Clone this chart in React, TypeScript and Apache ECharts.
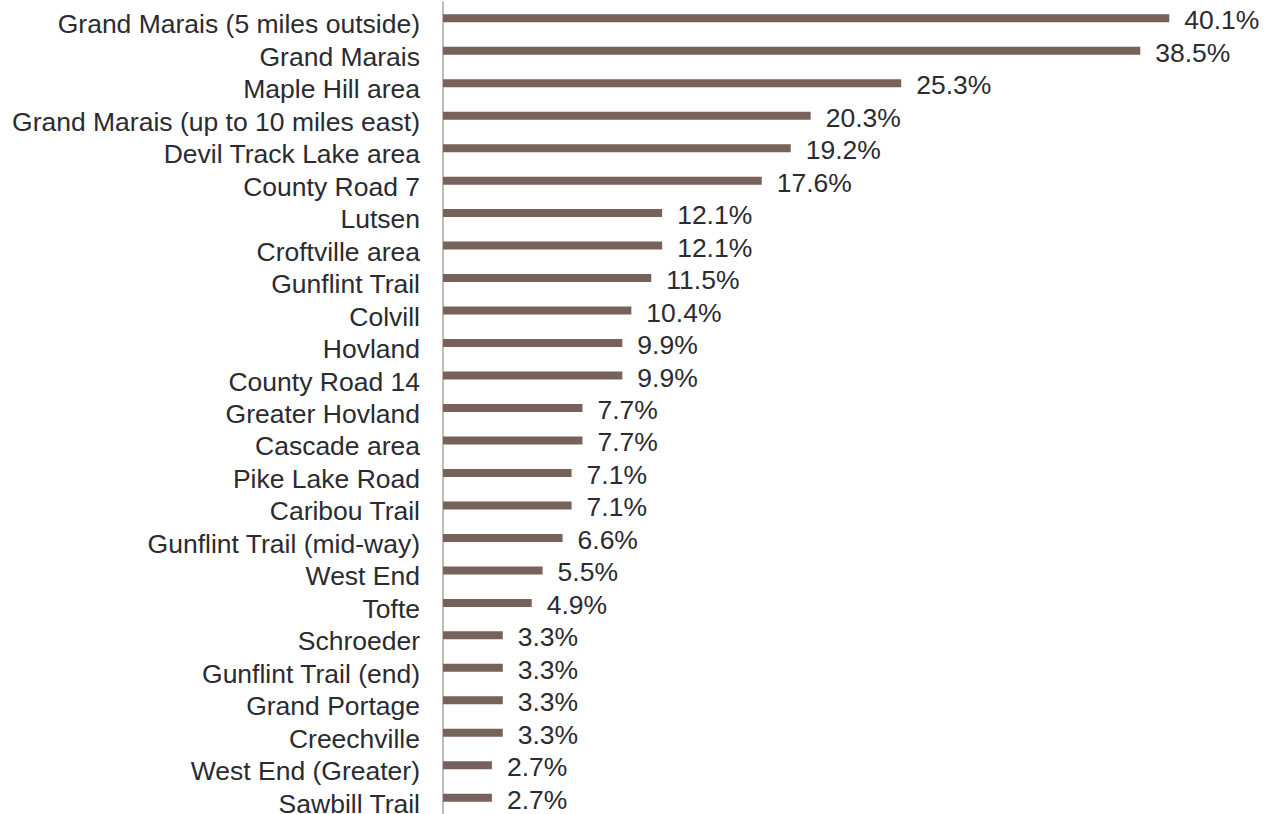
import React, { useEffect, useRef } from "react";
import * as echarts from "echarts";

const categories = [
  "Grand Marais (5 miles outside)",
  "Grand Marais",
  "Maple Hill area",
  "Grand Marais (up to 10 miles east)",
  "Devil Track Lake area",
  "County Road 7",
  "Lutsen",
  "Croftville area",
  "Gunflint Trail",
  "Colvill",
  "Hovland",
  "County Road 14",
  "Greater Hovland",
  "Cascade area",
  "Pike Lake Road",
  "Caribou Trail",
  "Gunflint Trail (mid-way)",
  "West End",
  "Tofte",
  "Schroeder",
  "Gunflint Trail (end)",
  "Grand Portage",
  "Creechville",
  "West End (Greater)",
  "Sawbill Trail",
];

const values = [
  40.1, 38.5, 25.3, 20.3, 19.2, 17.6, 12.1, 12.1, 11.5, 10.4, 9.9, 9.9, 7.7,
  7.7, 7.1, 7.1, 6.6, 5.5, 4.9, 3.3, 3.3, 3.3, 3.3, 2.7, 2.7,
];

export default function App() {
  const ref = useRef<HTMLDivElement>(null);
  useEffect(() => {
    if (!ref.current) return;
    const chart = echarts.init(ref.current, null, { renderer: "svg" });
    chart.setOption({
      animation: false,
      grid: {
        left: 443,
        top: 2,
        width: 815,
        height: 812,
        containLabel: false,
        outerBoundsMode: "none",
      },
      xAxis: {
        type: "value",
        min: 0,
        max: 45,
        show: false,
      },
      yAxis: {
        type: "category",
        data: categories,
        inverse: true,
        axisLine: { show: true, lineStyle: { color: "#A6A6A6", width: 1.5 } },
        axisTick: { show: false },
        axisLabel: {
          interval: 0,
          margin: 23,
          formatter: (v: string) => "{a|" + v + "}",
          rich: {
            a: {
              color: "#2B2B30",
              fontSize: 26.5,
              lineHeight: 18,
              fontFamily: "Liberation Sans, Arial, sans-serif",
              padding: [12, 0, 0, 0],
            },
          },
        },
        splitLine: { show: false },
      },
      series: [
        {
          type: "bar",
          data: values,
          barWidth: 8,
          itemStyle: { color: "#76625A" },
          label: {
            show: true,
            position: "right",
            distance: 15,
            offset: [0, 2],
            color: "#2B2B30",
            fontSize: 26.5,
            fontFamily: "Liberation Sans, Arial, sans-serif",
            formatter: (p: any) => p.value.toFixed(1) + "%",
          },
        },
      ],
    });
    return () => chart.dispose();
  }, []);
  return (
    <div
      ref={ref}
      style={{ position: "fixed", left: 0, top: 0, width: 1264, height: 814, background: "#fff" }}
    />
  );
}
